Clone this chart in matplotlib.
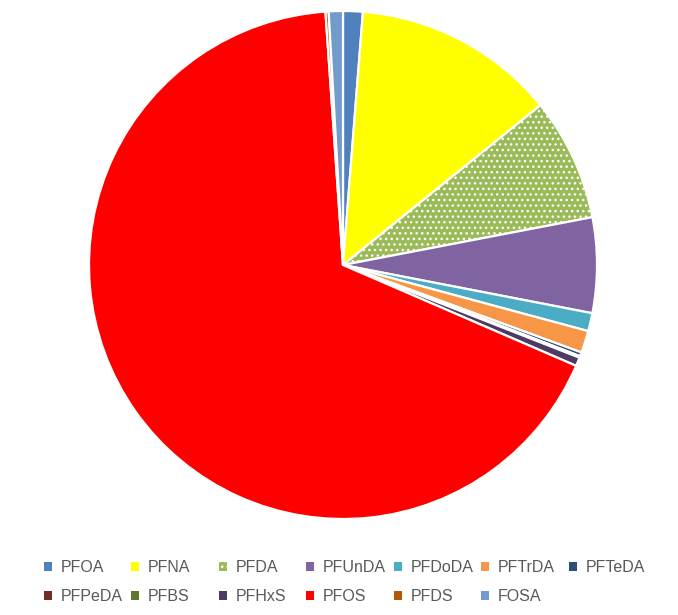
import matplotlib

matplotlib.use("Agg")
import matplotlib.pyplot as plt

# share of each compound (%)
labels = ["PFOA", "PFNA", "PFDA", "PFUnDA", "PFDoDA", "PFTrDA", "PFTeDA",
          "PFPeDA", "PFBS", "PFHxS", "PFOS", "PFDS", "FOSA"]
values = [1.25, 12.9, 7.8, 6.05, 1.15, 1.4, 0.25,
          0.05, 0.05, 0.55, 67.3, 0.2, 0.9]
colors = ["#4F81BD", "#FFFF00", "#9BBB59", "#8064A2", "#4BACC6", "#F79646", "#2C4D75",
          "#772C2A", "#5F7530", "#4D3B62", "#FF0000", "#B65708", "#729ACA"]

W, H = 678, 615
fig = plt.figure(figsize=(W / 100, H / 100), dpi=100)

# pie centre (343, 265) px, radius 254 px; axes a bit larger than the pie
cx, cy, r, pad = 343, 265, 254, 1.05
side = r * pad
ax = fig.add_axes([(cx - side) / W, (H - cy - side) / H, 2 * side / W, 2 * side / H])

wedges, _ = ax.pie(values, colors=colors, startangle=90, counterclock=False,
                   wedgeprops=dict(edgecolor="white", linewidth=1.6))
wedges[2].set_hatch("...")
ax.set_xlim(-pad, pad)
ax.set_ylim(-pad, pad)
ax.set_aspect("equal")
ax.axis("off")

# Excel fills the legend row by row; matplotlib fills by column
ncol = 7
order = []
for c in range(ncol):
    order.append(c)
    if c + ncol < len(labels):
        order.append(c + ncol)

leg_w = 612  # px
leg = fig.legend([wedges[i] for i in order], [labels[i] for i in order],
                 ncol=ncol, loc="center", mode="expand",
                 bbox_to_anchor=(44 / W, (H - 582) / H, leg_w / W, 0),
                 frameon=False, handlelength=0.5, handleheight=0.5,
                 handletextpad=0.55, labelspacing=0.85, columnspacing=0.0,
                 borderpad=0, borderaxespad=0,
                 prop={"family": "Liberation Sans", "size": 11.5})
# equal-width columns like Excel
leg._legend_handle_box.mode = "equal"
leg._legend_handle_box.set_width(leg_w)
for t in leg.get_texts():
    t.set_color("#595959")
for p in leg.get_patches():
    p.set_linewidth(0)

fig.savefig("out.png", dpi=100)
